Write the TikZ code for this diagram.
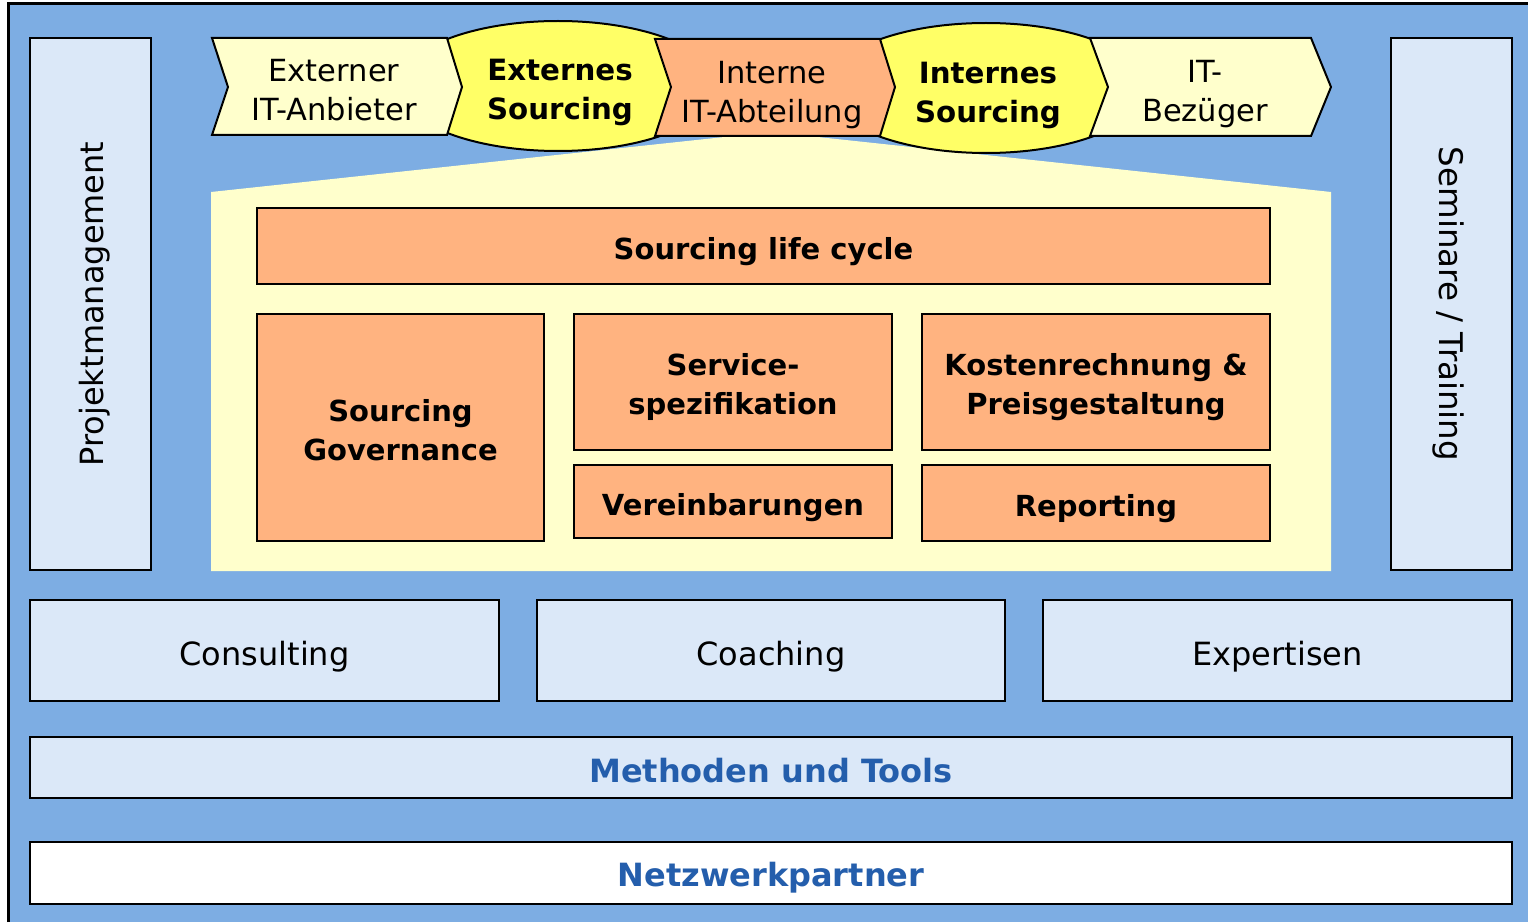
\documentclass[tikz,border=0pt]{standalone}
\usepackage{fontspec}
\setmainfont{DejaVu Sans}
\usetikzlibrary{shapes.geometric}
\definecolor{bgblue}{RGB}{125,173,227}
\definecolor{lblue}{RGB}{219,232,248}
\definecolor{lyellow}{RGB}{255,255,204}
\definecolor{syellow}{RGB}{255,255,102}
\definecolor{orng}{RGB}{255,179,128}
\definecolor{tblue}{RGB}{36,94,172}
\tikzset{
  bx/.style={draw=black, line width=2pt, inner sep=0pt},
  lbx/.style={bx, fill=lblue},
  obx/.style={bx, fill=orng},
  otxt/.style={font=\fontsize{29}{39}\selectfont\bfseries, align=center, inner sep=0pt},
  ntxt/.style={font=\fontsize{32}{39}\selectfont, inner sep=0pt},
  ctxt/.style={font=\fontsize{30.5}{39}\selectfont, align=center, inner sep=0pt},
  btxt/.style={font=\fontsize{29.3}{39}\selectfont\bfseries, align=center, inner sep=0pt},
  chev/.style={draw=black, line width=2pt, line join=miter},
  ell/.style={ellipse, draw=black, line width=2pt, fill=syellow, minimum width=320, minimum height=130, inner sep=0pt},
  bluetxt/.style={font=\fontsize{32}{39}\selectfont\bfseries, text=tblue, inner sep=0pt}
}
\begin{document}
\begin{tikzpicture}[x=1pt,y=-1pt]
\useasboundingbox (0,0) rectangle (1528,923);
\fill[white] (0,0) rectangle (1528,923);
\fill[bgblue] (8,4) rectangle (1528,922);
\draw[line width=3pt] (8,922) -- (8,4) -- (1528,4);

% house
\fill[lyellow] (211,192) -- (771,132) -- (1331,192) -- (1331,571) -- (211,571) -- cycle;

% side boxes
\node[lbx, minimum width=121, minimum height=532] (pm) at (90.5,304) {};
\node[ntxt, rotate=90, xshift=0pt, yshift=-4pt] (pmt) at (pm.center) {Projektmanagement};
\node[lbx, minimum width=121, minimum height=532] (st) at (1451.5,304) {};
\node[ntxt, font=\fontsize{32.5}{39}\selectfont, rotate=-90, yshift=-3pt] (stt) at (st.center) {Seminare / Training};

% bottom boxes
\node[lbx, minimum width=469, minimum height=101] (cons) at (264.5,650.5) {};
\node[ntxt, yshift=-6pt] (const) at (cons.center) {Consulting};
\node[lbx, minimum width=468, minimum height=101] (coach) at (771,650.5) {};
\node[ntxt, yshift=-6pt] (coacht) at (coach.center) {Coaching};
\node[lbx, minimum width=469, minimum height=101] (exp) at (1277.5,650.5) {};
\node[ntxt, yshift=-6pt] (expt) at (exp.center) {Expertisen};
\node[lbx, minimum width=1482, minimum height=61] (mt) at (771,767.5) {};
\node[bluetxt, yshift=-3pt] (mtt) at (mt.center) {Methoden und Tools};
\node[bx, fill=white, minimum width=1482, minimum height=62] (nw) at (771,873) {};
\node[bluetxt, yshift=-5pt] (nwt) at (nw.center) {Netzwerkpartner};

% inner orange boxes
\node[obx, minimum width=1013, minimum height=76] (slc) at (763.5,246) {};
\node[otxt, yshift=-6pt] (slct) at (slc.center) {Sourcing life cycle};
\node[obx, minimum width=287, minimum height=227] (gov) at (400.5,427.5) {};
\node[otxt, yshift=-3pt] (govt) at (gov.center) {Sourcing\\Governance};
\node[obx, minimum width=318, minimum height=136] (srv) at (733,382) {};
\node[otxt, yshift=-5pt] (srvt) at (srv.center) {Service-\\spezifikation};
\node[obx, minimum width=318, minimum height=73] (ver) at (733,501.5) {};
\node[otxt, yshift=-6pt] (vert) at (ver.center) {Vereinbarungen};
\node[obx, minimum width=348, minimum height=136] (kost) at (1096,382) {};
\node[otxt, yshift=-5pt] (kostt) at (kost.center) {Kostenrechnung \&\\Preisgestaltung};
\node[obx, minimum width=348, minimum height=76] (rep) at (1096,503) {};
\node[otxt, yshift=-6pt] (rept) at (rep.center) {Reporting};

% ellipses
\node[ell] (es) at (558,86) {};
\node[btxt] (est) at (560,92) {Externes\\Sourcing};
\node[ell] (is) at (986,88) {};
\node[btxt] (ist) at (988,95) {Internes\\Sourcing};

% chevrons
\path[chev, fill=lyellow] (212,38) -- (447,38) -- (462,87) -- (447,135) -- (212,135) -- (228,87) -- cycle;
\node[ctxt] (ext) at (334,90) {Externer\\IT-Anbieter};
\path[chev, fill=orng] (655,39) -- (880,39) -- (895,87) -- (880,136) -- (655,136) -- (671,87) -- cycle;
\node[ctxt] (int) at (772,95) {Interne\\IT-Abteilung};
\path[chev, fill=lyellow] (1090,38) -- (1311,38) -- (1331,87) -- (1311,136) -- (1090,136) -- (1108,87) -- cycle;
\node[ctxt] (bez) at (1205,94) {IT-\\Bezüger};
\end{tikzpicture}
\end{document}
